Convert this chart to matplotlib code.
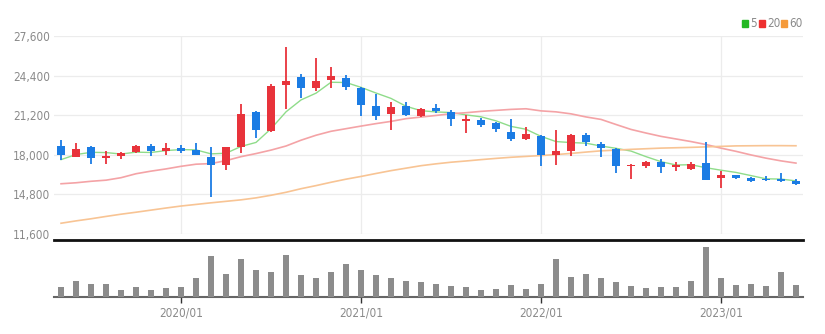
import numpy as np
import pandas as pd
import matplotlib
matplotlib.use("Agg")
import matplotlib.pyplot as plt
from matplotlib import font_manager as fm
from matplotlib.ticker import FuncFormatter

# narrow face for the labels, whichever is around
_fonts = fm.fontManager.ttflist
_names = {f.name for f in _fonts}
if 'Liberation Sans Narrow' in _names:
    plt.rcParams['font.family'] = ['Liberation Sans Narrow', 'DejaVu Sans']
elif any(f.name == 'DejaVu Sans' and f.stretch == 'condensed' for f in _fonts):
    plt.rcParams['font.family'] = ['DejaVu Sans']
    plt.rcParams['font.stretch'] = 'condensed'
else:
    plt.rcParams['font.family'] = ['Liberation Sans', 'DejaVu Sans']

# monthly candles, 2019/05 .. 2023/06
months = pd.period_range('2019-05', periods=50, freq='M')

opens = [18690, 17850, 18590, 17720, 17910, 18200, 18720, 18340, 18530, 18400,
         17850, 17150, 18610, 21480, 19910, 23650, 24250, 23430, 24030, 24210,
         23430, 21920, 21290, 21940, 21100, 21780, 21480, 20750, 20830, 20560,
         19880, 19260, 19500, 17990, 18340, 19620, 18890, 18500, 17100, 17120,
         17450, 16990, 16860, 17340, 16090, 16370, 16090, 16070, 16010, 15850]
closes = [17990, 18480, 17750, 17940, 18150, 18750, 18340, 18530, 18340, 18020,
          17150, 18590, 21270, 19970, 23560, 23970, 23400, 24000, 24380, 23460,
          22020, 21100, 21830, 21210, 21670, 21510, 20860, 20880, 20430, 20050,
          19260, 19700, 18020, 18320, 19640, 19020, 18530, 17120, 17200, 17390,
          16990, 17180, 17230, 15990, 16390, 16090, 15900, 15930, 15880, 15660]
highs = [19180, 18930, 18690, 18280, 18200, 18800, 18910, 18930, 18770, 18990,
         18590, 18610, 22080, 21530, 23760, 26680, 24490, 25790, 25110, 24460,
         23480, 22890, 22240, 22240, 21780, 22130, 21590, 21210, 20960, 20620,
         20880, 20230, 19560, 20020, 19700, 19750, 19020, 18560, 17230, 17470,
         17670, 17390, 17390, 19020, 16660, 16390, 16230, 16290, 16550, 16040]
lows = [17590, 17800, 17260, 17260, 17630, 18150, 17940, 17990, 18120, 17990,
        14630, 16800, 18150, 19340, 19830, 21670, 22560, 23160, 23430, 23270,
        21100, 20830, 20020, 21100, 21050, 21370, 20290, 19800, 20230, 19830,
        19150, 19210, 17100, 17180, 17940, 18750, 17800, 16500, 16040, 16940,
        16530, 16720, 16800, 15960, 15310, 16040, 15820, 15850, 15770, 15550]
volumes = [96, 156, 130, 130, 73, 103, 73, 90, 103, 186,
           406, 226, 376, 266, 250, 416, 220, 186, 250, 333,
           270, 220, 186, 156, 150, 133, 113, 96, 73, 83,
           120, 83, 133, 376, 203, 226, 193, 150, 110, 93,
           96, 96, 156, 496, 193, 120, 130, 113, 246, 120]

# first four 5-month averages need earlier closes
ma5_head = [17610, 18020, 18200, 18180]
ma20 = [15660, 15740, 15860, 15950, 16150, 16470, 16680, 16860, 17070, 17240,
        17290, 17530, 17850, 18100, 18380, 18710, 19180, 19580, 19900, 20110,
        20320, 20520, 20700, 20920, 21050, 21180, 21320, 21400, 21510, 21590,
        21670, 21720, 21550, 21470, 21310, 21060, 20860, 20450, 20050, 19760,
        19490, 19280, 19070, 18830, 18540, 18280, 17990, 17730, 17510, 17330]
ma60 = [12470, 12660, 12830, 13020, 13200, 13360, 13530, 13700, 13860, 13990,
        14120, 14240, 14360, 14520, 14730, 14970, 15260, 15510, 15780, 16030,
        16250, 16490, 16720, 16920, 17120, 17270, 17400, 17500, 17610, 17710,
        17800, 17870, 17940, 18020, 18110, 18220, 18320, 18380, 18440, 18490,
        18540, 18570, 18600, 18640, 18680, 18720, 18730, 18740, 18740, 18730]

ma5 = pd.Series(closes).rolling(5).mean().to_numpy()
ma5[:4] = ma5_head

UP, DOWN = '#e8333b', '#1b7ce4'
GRID = '#ececec'
TXT = '#8a8a8a'

W, H = 825, 334
fig = plt.figure(figsize=(W / 100, H / 100), dpi=100)
ax = fig.add_axes([54 / W, 1 - 234 / H, 749 / W, 198 / H])
axv = fig.add_axes([54 / W, 1 - 297 / H, 749 / W, 57 / H], sharex=ax)

x = np.arange(len(months))
o, c, h, l = map(np.array, (opens, closes, highs, lows))
colors = np.where(c >= o, UP, DOWN)

ax.vlines(x, l, h, colors=colors, lw=1.3, zorder=3)
body = np.maximum(np.abs(c - o), 110)
ax.bar(x, body, bottom=np.minimum(o, c), width=0.52, color=colors, zorder=4)

ax.plot(x, ma5, color='#8fdc8a', lw=1.0, zorder=2)
ax.plot(x, ma20, color='#f4a3a6', lw=1.2, zorder=2)
ax.plot(x, ma60, color='#f8c494', lw=1.2, zorder=2)

ax.set_xlim(-0.47, len(x) - 0.53)
ax.set_ylim(11600, 27600)
yt = np.arange(11600, 27601, 3200)
ax.set_yticks(yt)
ax.yaxis.set_major_formatter(FuncFormatter(lambda v, p: f'{int(v):,}'))
ax.tick_params(axis='y', length=0, pad=3, labelsize=8.5, labelcolor=TXT)
ax.tick_params(axis='x', length=0, labelbottom=False)
ax.grid(True, color=GRID, lw=0.9)
ax.set_axisbelow(True)
for s in ax.spines.values():
    s.set_visible(False)

# year ticks on January
jan = [i for i, m in enumerate(months) if m.month == 1]
ax.set_xticks(jan)

axv.bar(x, volumes, width=0.45, color='#8c8c8c', zorder=3)
axv.set_ylim(0, 570)
axv.set_yticks([])
axv.set_xticks(jan)
axv.set_xticklabels([m.strftime('%Y/%m') for m in months[jan]])
axv.tick_params(axis='x', length=4, width=1, color='#333333', labelsize=8.5,
                labelcolor=TXT, pad=3)
axv.tick_params(axis='x', labelbottom=True)
for s in ('left', 'right'):
    axv.spines[s].set_visible(False)
axv.spines['top'].set_color('#111111')
axv.spines['top'].set_linewidth(2)
axv.spines['bottom'].set_color('#666666')
axv.spines['bottom'].set_linewidth(1.5)

# moving-average legend
for xs, col, lab in ((742, '#22b822', '5'), (759, '#ee3030', '20'), (781, '#f59a3a', '60')):
    fig.patches.append(plt.Rectangle((xs / W, 1 - 27 / H), 6 / W, 7 / H,
                                     transform=fig.transFigure, color=col))
    fig.text((xs + 8) / W, 1 - 23.5 / H, lab, color=TXT, fontsize=8.5, va='center')

fig.savefig('out.png', dpi=100)
